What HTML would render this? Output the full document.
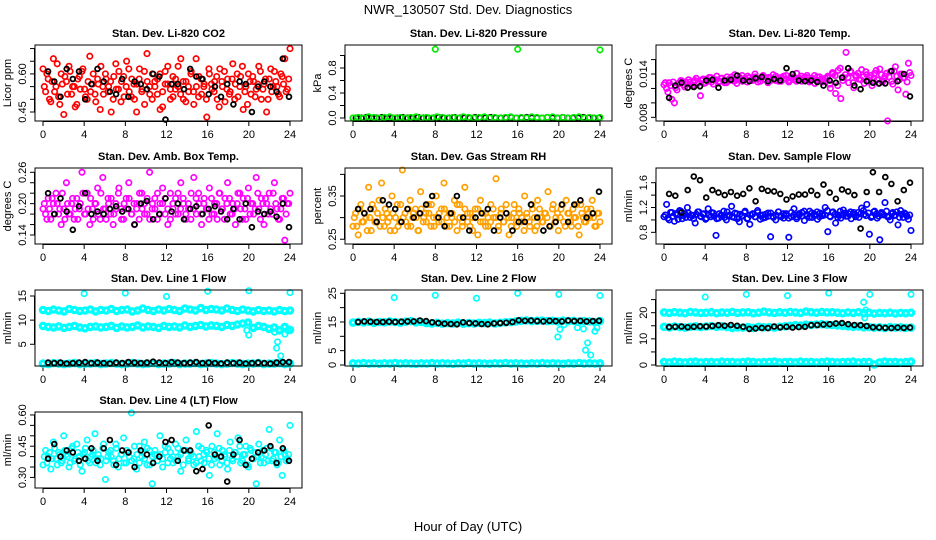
<!DOCTYPE html>
<html><head><meta charset="utf-8"><style>
body{margin:0;background:#fff;}
svg{display:block;font-family:"Liberation Sans",Arial,sans-serif;}
</style></head><body>
<svg id="chart" width="936" height="540" viewBox="0 0 936 540">
<rect x="0" y="0" width="936" height="540" fill="#fff"/>
<text x="468" y="14" text-anchor="middle" font-size="13">NWR_130507  Std. Dev. Diagnostics</text>
<text x="468" y="531" text-anchor="middle" font-size="13">Hour of Day (UTC)</text>
</svg>
<script>
// ---- data arrays ----
const xTicks = [0,4,8,12,16,20,24];
const co2Red = [0.62,0.53,0.58,0.49,0.66,0.55,0.51,0.60,0.44,0.57,0.63,0.52,0.55,0.48,0.59,0.61,0.54,0.50,0.67,0.56,0.52,0.58,0.46,0.55,0.60,0.53,0.57,0.50,0.64,0.54,0.49,0.59,0.55,0.62,0.51,0.56,0.45,0.58,0.53,0.61,0.68,0.55,0.50,0.57,0.52,0.60,0.47,0.56,0.63,0.54,0.51,0.58,0.55,0.66,0.50,0.57,0.53,0.61,0.48,0.55,0.59,0.52,0.56,0.43,0.60,0.54,0.57,0.50,0.62,0.55,0.49,0.58,0.53,0.64,0.56,0.51,0.59,0.46,0.55,0.60,0.52,0.57,0.54,0.63,0.50,0.56,0.45,0.58,0.53,0.61,0.55,0.51,0.59,0.66,0.54,0.70];
const co2RedB = [0.55,0.60,0.50,0.57,0.53,0.64,0.48,0.56,0.59,0.52,0.61,0.55,0.47,0.58,0.54,0.62,0.51,0.57,0.53,0.60,0.49,0.56,0.63,0.52,0.58,0.55,0.45,0.59,0.54,0.61,0.57,0.51,0.65,0.53,0.58,0.50,0.56,0.62,0.54,0.48,0.57,0.52,0.60,0.55,0.58,0.46,0.53,0.61,0.56,0.50,0.59,0.54,0.63,0.52,0.57,0.49,0.55,0.60,0.53,0.66,0.51,0.58,0.55,0.50,0.62,0.56,0.53,0.59,0.47,0.57,0.61,0.54,0.52,0.58,0.50,0.60,0.55,0.63,0.53,0.48,0.57,0.59,0.51,0.56,0.61,0.54,0.58,0.50,0.62,0.55,0.57,0.52,0.60,0.56,0.53,0.58];
const co2Black = [0.61,0.57,0.51,0.62,0.58,0.61,0.50,0.56,0.62,0.57,0.53,0.52,0.58,0.51,0.57,0.56,0.54,0.60,0.59,0.42,0.56,0.56,0.54,0.62,0.59,0.58,0.52,0.55,0.51,0.56,0.48,0.57,0.56,0.45,0.55,0.57,0.55,0.53,0.66,0.51];
const presGreen = [0.0,0.01,0.0,0.02,0.01,0.0,0.01,0.02,0.0,0.01,0.0,0.01,0.02,0.0,0.01,0.0,0.02,0.01,0.0,0.01,0.0,0.02,0.01,0.0,0.01,0.02,0.0,0.01,0.0,0.01,0.02,0.0,0.01,0.0,0.02,0.01,0.0,0.01,0.02,0.0,0.01,0.0,0.01,0.02,0.0,0.01,0.0,0.01];
const presBlack = [0.0,0.0,0.01,0.0,0.0,0.01,0.0,0.0,0.0,0.01,0.0,0.0,0.01,0.0,0.0,0.0,0.01,0.0,0.0,0.01,0.0,0.0,0.0,0.01,0.0,0.0,0.01,0.0,0.0,0.0,0.01,0.0,0.0,0.01,0.0,0.0,0.0,0.01,0.0,0.0,0.01,0.0,0.0,0.0,0.01,0.0,0.0,0.0];
const presOutX = [0,8,16,24];
const presOutY = [0.0,1.1,1.1,1.09];
const tempMag = [0.0125,0.0120,0.0128,0.0105,0.0100,0.0118,0.0127,0.0130,0.0122,0.0126,0.0129,0.0124,0.0131,0.0127,0.0110,0.0133,0.0128,0.0130,0.0135,0.0126,0.0132,0.0129,0.0134,0.0131,0.0128,0.0133,0.0136,0.0130,0.0127,0.0134,0.0138,0.0132,0.0129,0.0135,0.0131,0.0140,0.0133,0.0130,0.0136,0.0132,0.0128,0.0135,0.0139,0.0131,0.0134,0.0130,0.0137,0.0133,0.0129,0.0136,0.0132,0.0141,0.0134,0.0130,0.0135,0.0138,0.0131,0.0133,0.0127,0.0136,0.0132,0.0129,0.0134,0.0137,0.0120,0.0140,0.0113,0.0145,0.0106,0.0135,0.0170,0.0128,0.0142,0.0121,0.0138,0.0133,0.0146,0.0127,0.0139,0.0135,0.0124,0.0141,0.0132,0.0147,0.0129,0.0137,0.0075,0.0143,0.0126,0.0150,0.0118,0.0140,0.0135,0.0112,0.0155,0.0138];
const tempMagB = [0.0128,0.0115,0.0124,0.0129,0.0121,0.0127,0.0131,0.0125,0.0129,0.0132,0.0126,0.0130,0.0134,0.0128,0.0131,0.0127,0.0133,0.0135,0.0129,0.0132,0.0137,0.0130,0.0134,0.0128,0.0136,0.0131,0.0133,0.0139,0.0132,0.0135,0.0130,0.0134,0.0137,0.0131,0.0133,0.0136,0.0129,0.0134,0.0138,0.0132,0.0135,0.0131,0.0133,0.0137,0.0130,0.0135,0.0133,0.0138,0.0131,0.0134,0.0136,0.0130,0.0133,0.0137,0.0132,0.0135,0.0129,0.0134,0.0138,0.0131,0.0136,0.0133,0.0130,0.0135,0.0126,0.0142,0.0138,0.0124,0.0148,0.0131,0.0139,0.0135,0.0144,0.0128,0.0137,0.0141,0.0132,0.0136,0.0143,0.0130,0.0138,0.0134,0.0145,0.0127,0.0139,0.0133,0.0141,0.0136,0.0130,0.0144,0.0137,0.0132,0.0140,0.0135,0.0129,0.0142];
const tempBlack = [0.0107,0.0124,0.0128,0.0121,0.0122,0.0123,0.0131,0.0132,0.0121,0.0131,0.0132,0.0138,0.0131,0.0130,0.0134,0.0136,0.0130,0.0133,0.0131,0.0148,0.0140,0.0131,0.0130,0.0131,0.0129,0.0124,0.0131,0.0128,0.0135,0.0148,0.0124,0.0119,0.0130,0.0128,0.0127,0.0127,0.0144,0.0130,0.0140,0.0109];
const ambMag = [0.19,0.18,0.21,0.17,0.20,0.22,0.18,0.16,0.19,0.24,0.18,0.20,0.17,0.21,0.19,0.26,0.18,0.22,0.16,0.19,0.20,0.23,0.17,0.25,0.19,0.21,0.18,0.16,0.20,0.22,0.19,0.17,0.21,0.24,0.18,0.20,0.19,0.17,0.22,0.20,0.18,0.26,0.19,0.21,0.17,0.20,0.23,0.18,0.16,0.22,0.19,0.21,0.18,0.24,0.20,0.17,0.19,0.22,0.25,0.18,0.20,0.16,0.21,0.19,0.23,0.18,0.20,0.17,0.22,0.19,0.21,0.24,0.18,0.20,0.16,0.22,0.19,0.21,0.17,0.23,0.20,0.18,0.25,0.19,0.21,0.16,0.20,0.22,0.18,0.24,0.19,0.17,0.21,0.13,0.20,0.22];
const ambMagB = [0.20,0.17,0.19,0.21,0.18,0.20,0.19,0.22,0.17,0.20,0.18,0.21,0.19,0.17,0.20,0.22,0.18,0.19,0.21,0.17,0.20,0.18,0.22,0.19,0.17,0.20,0.21,0.18,0.19,0.23,0.17,0.20,0.19,0.21,0.18,0.16,0.20,0.22,0.19,0.18,0.21,0.17,0.20,0.19,0.22,0.18,0.20,0.21,0.19,0.17,0.20,0.18,0.22,0.19,0.21,0.18,0.20,0.17,0.19,0.21,0.22,0.18,0.20,0.19,0.17,0.21,0.18,0.20,0.22,0.19,0.17,0.20,0.21,0.18,0.19,0.20,0.22,0.17,0.19,0.21,0.18,0.20,0.19,0.22,0.17,0.20,0.21,0.18,0.19,0.22,0.20,0.17,0.19,0.21,0.18,0.20];
const ambBlack = [0.22,0.18,0.21,0.185,0.15,0.195,0.22,0.18,0.185,0.18,0.19,0.195,0.185,0.19,0.16,0.20,0.205,0.17,0.18,0.21,0.185,0.20,0.17,0.19,0.195,0.18,0.19,0.195,0.185,0.17,0.19,0.17,0.20,0.155,0.185,0.18,0.185,0.175,0.20,0.155];
const rhOrange = [0.28,0.31,0.26,0.33,0.29,0.30,0.37,0.27,0.32,0.29,0.34,0.38,0.28,0.31,0.30,0.35,0.27,0.33,0.29,0.41,0.31,0.28,0.34,0.30,0.32,0.27,0.36,0.29,0.31,0.33,0.28,0.30,0.35,0.29,0.32,0.38,0.28,0.31,0.30,0.34,0.27,0.33,0.29,0.37,0.31,0.28,0.30,0.32,0.26,0.34,0.29,0.31,0.28,0.33,0.30,0.39,0.27,0.32,0.29,0.31,0.26,0.30,0.33,0.28,0.31,0.29,0.35,0.30,0.28,0.32,0.27,0.34,0.30,0.29,0.31,0.36,0.28,0.33,0.30,0.27,0.32,0.29,0.34,0.31,0.28,0.30,0.33,0.26,0.31,0.29,0.32,0.30,0.34,0.28,0.31,0.29];
const rhOrangeB = [0.30,0.28,0.32,0.29,0.31,0.27,0.30,0.33,0.29,0.31,0.28,0.30,0.32,0.29,0.27,0.31,0.30,0.28,0.33,0.30,0.29,0.32,0.28,0.31,0.30,0.27,0.32,0.30,0.29,0.31,0.33,0.28,0.30,0.31,0.29,0.32,0.30,0.28,0.31,0.29,0.33,0.30,0.28,0.32,0.29,0.31,0.27,0.30,0.32,0.29,0.31,0.28,0.30,0.29,0.32,0.30,0.28,0.31,0.29,0.33,0.30,0.28,0.31,0.29,0.32,0.30,0.27,0.31,0.29,0.33,0.30,0.28,0.32,0.29,0.31,0.30,0.28,0.32,0.29,0.31,0.30,0.33,0.28,0.31,0.29,0.32,0.30,0.28,0.33,0.30,0.29,0.31,0.32,0.30,0.28,0.31];
const rhBlack = [0.32,0.31,0.32,0.29,0.34,0.33,0.32,0.29,0.32,0.30,0.31,0.33,0.35,0.30,0.28,0.31,0.35,0.30,0.27,0.30,0.31,0.32,0.27,0.30,0.31,0.27,0.29,0.29,0.33,0.30,0.27,0.28,0.29,0.33,0.29,0.33,0.34,0.30,0.31,0.36];
const flowBlue = [1.05,1.25,1.00,1.12,0.98,1.08,1.15,1.02,1.10,1.20,1.04,1.07,0.95,1.13,1.06,1.09,1.01,1.18,1.05,1.11,0.75,1.03,1.08,1.14,1.00,1.06,1.22,1.04,1.10,0.97,1.07,1.12,1.02,0.93,1.09,1.05,1.15,1.01,1.08,1.04,1.11,0.73,1.06,1.00,1.13,1.07,1.03,1.10,0.72,1.05,1.18,1.02,1.08,1.12,0.99,1.06,1.14,1.04,1.09,1.01,1.11,1.07,1.20,0.81,1.05,1.13,0.95,1.08,1.03,1.16,1.06,1.10,1.02,1.12,1.07,1.04,1.19,1.09,1.25,0.77,1.06,1.14,1.03,0.68,1.10,1.28,1.05,1.00,1.12,1.08,0.92,1.15,1.04,1.09,1.01,0.83];
const flowBlueB = [1.08,1.03,1.12,1.06,1.10,1.01,1.14,1.07,1.04,1.11,1.08,1.02,1.09,1.13,1.05,1.10,1.03,1.08,1.12,1.06,1.02,1.10,1.07,1.04,1.13,1.08,1.05,1.11,1.02,1.09,1.06,1.14,1.03,1.08,1.10,1.05,1.12,1.07,1.03,1.09,1.06,1.11,1.04,1.08,1.13,1.05,1.10,1.07,1.03,1.12,1.08,1.05,1.10,1.06,1.14,1.09,1.04,1.11,1.07,1.13,1.05,1.10,1.08,1.15,1.06,1.12,1.09,1.04,1.14,1.08,1.11,1.06,1.13,1.09,1.05,1.12,1.10,1.15,1.07,1.11,1.04,1.13,1.09,1.06,1.12,1.08,1.14,1.05,1.10,1.07,1.13,1.04,1.09,1.11,1.06,1.08];
const flowBlack = [1.42,1.39,1.12,1.48,1.70,1.64,1.36,1.48,1.44,1.40,1.45,1.39,1.42,1.51,1.30,1.50,1.47,1.46,1.42,1.33,1.38,1.41,1.41,1.47,1.40,1.57,1.44,1.34,1.49,1.46,1.40,0.86,1.45,1.77,1.45,1.69,1.58,1.30,1.48,1.60];
const l1Hi = [12.1,11.9,12.2,12.0,11.8,12.3,12.1,11.9,12.0,12.2,11.8,12.1,12.0,12.3,11.9,12.1,12.2,11.8,12.0,12.4,12.1,11.9,12.2,12.0,12.3,12.1,11.9,12.4,12.2,12.0,12.5,12.1,12.3,12.2,12.0,12.4,12.1,11.9,12.2,12.0,11.8,12.1,11.9,12.0,11.8,12.1,11.9,12.0];
const l1Mid = [8.8,8.6,8.5,8.7,8.4,8.6,8.8,8.5,8.3,8.6,8.7,8.5,8.6,8.8,8.4,8.7,8.5,8.6,8.9,8.5,8.7,8.6,8.4,8.8,8.6,8.7,8.5,8.9,8.6,8.8,9.0,8.7,8.9,8.8,8.6,9.0,8.8,9.1,9.3,9.5,8.4,8.8,8.6,8.2,8.5,7.9,8.6,8.0];
const l1Low = [1.0,0.9,1.1,1.0,0.9,1.0,1.1,0.9,1.0,1.0,1.1,0.9,1.0,1.1,1.0,0.9,1.0,1.1,1.0,0.9,1.0,1.1,0.9,1.0,1.0,1.1,0.9,1.0,1.0,1.1,0.9,1.0,1.1,1.0,0.9,1.0,1.1,1.0,0.9,1.0,1.0,1.1,0.9,1.0,1.0,1.1,0.9,1.0];
const l1Black = [1.2,1.1,1.2,1.0,1.1,1.2,1.3,1.1,1.2,1.1,1.0,1.2,1.1,1.3,1.2,1.1,1.2,1.4,1.2,1.1,1.3,1.2,1.1,1.2,1.3,1.1,1.2,1.1,1.0,1.2,1.1,1.2,1.0,1.1,1.2,1.1,1.0,1.2,1.3,1.3];
const l1OutX = [4,8,12,16,20,24,19.8,20,22.5,22.7,22.8,23.1,23.5,23.8];
const l1OutY = [15.5,15.6,14.9,16.0,16.1,15.7,7.9,6.9,7.5,4.2,5.5,2.6,7.1,7.8];
const l2Hi = [14.8,15.0,14.9,15.1,14.7,15.0,14.9,15.2,15.0,14.8,15.1,15.3,14.9,15.0,14.6,14.5,14.7,14.4,14.6,14.5,14.8,14.4,14.6,14.5,14.7,14.6,14.8,14.5,14.7,14.9,15.0,15.2,15.4,15.5,15.3,15.4,15.5,15.3,15.4,15.2,15.5,15.3,15.4,15.1,15.3,15.2,15.0,15.3];
const l2Low = [0.6,0.5,0.7,0.5,0.6,0.4,0.6,0.5,0.7,0.5,0.6,0.5,0.4,0.6,0.5,0.7,0.5,0.6,0.5,0.4,0.6,0.5,0.7,0.5,0.6,0.5,0.4,0.6,0.5,0.7,0.5,0.6,0.5,0.4,0.6,0.5,0.7,0.5,0.6,0.5,0.4,0.6,0.5,0.7,0.5,0.6,0.5,0.6];
const l2Black = [15.0,15.2,15.1,15.0,15.0,15.1,15.0,15.1,15.2,15.2,15.5,15.3,14.9,14.6,14.4,14.3,14.2,14.9,14.6,14.5,14.3,14.2,14.5,14.6,14.7,15.0,15.6,15.4,15.5,15.3,15.2,15.4,15.3,15.2,15.5,15.3,15.4,15.2,15.3,15.4];
const l2OutX = [4,8,12,16,20,24,19.9,20.1,20.5,21.8,22.4,22.6,22.8,23.1,23.5,23.7];
const l2OutY = [23.5,24.3,23.3,25.0,24.6,24.2,9.8,12.4,14.0,13.0,12.6,5.2,7.7,3.5,11.8,13.0];
const l3Hi = [20.1,19.9,20.2,20.0,19.8,20.3,20.1,19.9,20.0,20.2,19.8,20.1,20.0,20.3,19.9,20.1,20.2,19.8,20.0,20.4,20.1,19.9,20.2,20.0,20.3,20.1,19.9,20.4,20.2,20.0,20.3,20.1,20.2,20.0,19.8,20.1,19.9,20.2,19.8,20.0,19.7,19.9,19.8,20.0,19.7,19.9,19.8,20.0];
const l3Mid = [14.6,14.4,14.7,14.5,14.3,14.6,14.8,14.5,14.7,14.9,14.6,14.8,14.5,14.2,14.4,14.3,14.5,14.2,14.6,14.4,14.5,14.3,14.6,14.8,15.0,15.2,15.1,15.4,15.3,15.5,15.6,15.4,15.3,15.1,15.0,14.8,14.6,14.7,14.4,14.5,14.3,14.4,14.2,14.5,14.3,14.4,14.2,14.3];
const l3Low = [1.2,1.0,1.3,1.1,1.0,1.2,1.3,1.0,1.1,1.2,1.0,1.3,1.1,1.2,1.0,1.1,1.3,1.2,1.0,1.1,1.2,1.3,1.0,1.1,1.2,1.0,1.3,1.1,1.2,1.0,1.1,1.3,1.2,1.0,1.1,1.2,1.3,1.0,1.1,1.2,0.2,1.0,1.3,1.1,1.2,1.0,1.1,1.3];
const l3Black = [14.5,14.6,14.7,14.4,14.6,14.8,14.7,14.9,15.2,15.0,15.3,15.0,14.6,13.8,14.0,14.2,14.1,14.7,14.4,14.6,14.3,14.5,14.6,15.2,15.3,15.5,15.6,15.9,16.0,15.6,15.3,15.2,14.9,14.4,14.3,14.2,14.1,14.3,14.2,14.3];
const l3OutX = [4,8,12,16,19.4,19.5,19.6,20,24];
const l3OutY = [26.0,27.0,26.5,27.5,24.0,18.0,21.0,27.0,27.0];
const l4Cyan = [0.36,0.43,0.40,0.34,0.47,0.39,0.42,0.37,0.50,0.41,0.35,0.44,0.38,0.46,0.40,0.33,0.42,0.48,0.37,0.41,0.51,0.39,0.36,0.44,0.29,0.40,0.43,0.38,0.46,0.35,0.41,0.49,0.37,0.42,0.61,0.39,0.34,0.45,0.40,0.47,0.36,0.43,0.27,0.41,0.38,0.50,0.35,0.42,0.44,0.39,0.37,0.46,0.40,0.33,0.43,0.48,0.38,0.41,0.36,0.52,0.40,0.44,0.37,0.42,0.31,0.45,0.39,0.51,0.36,0.43,0.40,0.34,0.47,0.38,0.42,0.49,0.37,0.41,0.45,0.35,0.43,0.39,0.27,0.46,0.40,0.37,0.44,0.53,0.38,0.42,0.36,0.48,0.31,0.41,0.39,0.55];
const l4CyanB = [0.40,0.37,0.42,0.39,0.44,0.36,0.41,0.38,0.43,0.40,0.37,0.45,0.39,0.42,0.36,0.41,0.44,0.38,0.40,0.43,0.37,0.41,0.39,0.46,0.38,0.42,0.40,0.36,0.44,0.39,0.41,0.37,0.43,0.40,0.38,0.45,0.41,0.37,0.42,0.39,0.44,0.36,0.40,0.43,0.38,0.41,0.39,0.45,0.37,0.42,0.40,0.38,0.44,0.41,0.36,0.43,0.39,0.42,0.40,0.37,0.45,0.38,0.41,0.43,0.39,0.36,0.42,0.40,0.44,0.38,0.41,0.37,0.43,0.39,0.42,0.40,0.45,0.38,0.41,0.36,0.44,0.39,0.42,0.40,0.37,0.43,0.41,0.38,0.44,0.39,0.42,0.37,0.40,0.43,0.38,0.41];
const l4Black = [0.39,0.46,0.40,0.43,0.42,0.38,0.39,0.44,0.38,0.44,0.48,0.36,0.43,0.42,0.35,0.43,0.41,0.37,0.40,0.47,0.48,0.38,0.43,0.43,0.33,0.34,0.55,0.41,0.40,0.28,0.41,0.48,0.36,0.39,0.42,0.43,0.45,0.37,0.44,0.38];

const NS = "http://www.w3.org/2000/svg";
const svg = document.getElementById('chart');
function mk(tag, attrs, parent){
  const e = document.createElementNS(NS, tag);
  for (const k in attrs) e.setAttribute(k, attrs[k]);
  (parent||svg).appendChild(e);
  return e;
}
function evenX(n, a, b){ const r=[]; for(let i=0;i<n;i++) r.push(a+(b-a)*i/(n-1)); return r; }

const colLeft = [35,345,656];
const rowTop = [45,168,290,412];
const W = 267, H = 76;

const panels = [
 {title:"Stan. Dev. Li-820 CO2", ylab:"Licor ppm", ymin:0.4145, ymax:0.714, ticks:[0.45,0.5,0.55,0.6,0.65,0.7], labels:{"0.45":"0.45","0.6":"0.60"},
  series:[{y:co2Red,c:"#ff0000",name:"co2-std"},{y:co2RedB,c:"#ff0000",name:"co2-std-b",x0:0.13,x1:23.87},{y:co2Black,c:"#000",b:1,name:"co2-std-black"}]},
 {title:"Stan. Dev. Li-820 Pressure", ylab:"kPa", ymin:-0.048, ymax:1.168, ticks:[0,0.2,0.4,0.6,0.8,1.0], labels:{"0":"0.0","0.4":"0.4","0.8":"0.8"},
  series:[{y:presBlack,c:"#000",name:"pressure-std-black",x0:0.3,x1:23.9},{y:presGreen,c:"#00ee00",name:"pressure-std"},{x:presOutX,y:presOutY,c:"#00ee00",name:"pressure-outliers"}]},
 {title:"Stan. Dev. Li-820 Temp.", ylab:"degrees C", ymin:0.00749, ymax:0.01802, ticks:[0.008,0.010,0.012,0.014,0.016], labels:{"0.008":"0.008","0.014":"0.014"},
  series:[{y:tempMag,c:"#ff00ff",name:"temp-std"},{y:tempMagB,c:"#ff00ff",name:"temp-std-b",x0:0.13,x1:23.87},{y:tempBlack,c:"#000",b:1,name:"temp-std-black"}]},
 {title:"Stan. Dev. Amb. Box Temp.", ylab:"degrees C", ymin:0.1228, ymax:0.2682, ticks:[0.14,0.16,0.18,0.20,0.22,0.24,0.26], labels:{"0.14":"0.14","0.2":"0.20","0.26":"0.26"},
  series:[{y:ambMag,c:"#ff00ff",name:"ambtemp-std"},{y:ambMagB,c:"#ff00ff",name:"ambtemp-std-b",x0:0.13,x1:23.87},{y:ambBlack,c:"#000",b:1,name:"ambtemp-std-black"}]},
 {title:"Stan. Dev. Gas Stream RH", ylab:"percent", ymin:0.239, ymax:0.4147, ticks:[0.25,0.30,0.35,0.40], labels:{"0.25":"0.25","0.35":"0.35"},
  series:[{y:rhOrange,c:"#ffa000",name:"rh-std"},{y:rhOrangeB,c:"#ffa000",name:"rh-std-b",x0:0.13,x1:23.87},{y:rhBlack,c:"#000",b:1,name:"rh-std-black"}]},
 {title:"Stan. Dev. Sample Flow", ylab:"ml/min", ymin:0.612, ymax:1.837, ticks:[0.8,1.0,1.2,1.4,1.6], labels:{"0.8":"0.8","1.2":"1.2","1.6":"1.6"},
  series:[{y:flowBlue,c:"#0000ff",name:"sampleflow-std"},{y:flowBlueB,c:"#0000ff",name:"sampleflow-std-b",x0:0.13,x1:23.87},{y:flowBlack,c:"#000",b:1,name:"sampleflow-std-black"}]},
 {title:"Stan. Dev. Line 1 Flow", ylab:"ml/min", ymin:0.5, ymax:16.24, ticks:[5,10,15], labels:{"5":"5","10":"10","15":"15"},
  series:[{y:l1Hi,c:"#00ffff",band:1,name:"line1-band-high"},{y:l1Mid,c:"#00ffff",band:1,name:"line1-band-mid"},{y:l1Low,c:"#00ffff",band:1,name:"line1-band-low"},{x:l1OutX,y:l1OutY,c:"#00ffff",name:"line1-outliers"},{y:l1Black,c:"#000",b:1,name:"line1-black"}]},
 {title:"Stan. Dev. Line 2 Flow", ylab:"ml/min", ymin:-0.35, ymax:26.15, ticks:[0,5,10,15,20,25], labels:{"0":"0","5":"5","15":"15","25":"25"},
  series:[{y:l2Hi,c:"#00ffff",band:1,name:"line2-band-high"},{y:l2Low,c:"#00ffff",band:1,name:"line2-band-low"},{x:l2OutX,y:l2OutY,c:"#00ffff",name:"line2-outliers"},{y:l2Black,c:"#000",b:1,name:"line2-black"}]},
 {title:"Stan. Dev. Line 3 Flow", ylab:"ml/min", ymin:-0.38, ymax:28.67, ticks:[0,5,10,15,20,25], labels:{"0":"0","10":"10","20":"20"},
  series:[{y:l3Hi,c:"#00ffff",band:1,name:"line3-band-high"},{y:l3Mid,c:"#00ffff",band:1,name:"line3-band-mid"},{y:l3Low,c:"#00ffff",band:1,name:"line3-band-low"},{x:l3OutX,y:l3OutY,c:"#00ffff",name:"line3-outliers"},{y:l3Black,c:"#000",b:1,name:"line3-black"}]},
 {title:"Stan. Dev. Line 4 (LT) Flow", ylab:"ml/min", ymin:0.2493, ymax:0.6142, ticks:[0.30,0.35,0.40,0.45,0.50,0.55,0.60], labels:{"0.3":"0.30","0.45":"0.45","0.6":"0.60"},
  series:[{y:l4Cyan,c:"#00ffff",name:"line4-std"},{y:l4CyanB,c:"#00ffff",name:"line4-std-b",x0:0.13,x1:23.87},{y:l4Black,c:"#000",b:1,name:"line4-black"}]}
];

panels.forEach((p, idx) => {
  const L = colLeft[idx%3], T = rowTop[Math.floor(idx/3)];
  const g = mk('g', {});
  
  
  const xs = h => L + 8 + h*(247/24);
  const ys = v => T + H - (v - p.ymin)/(p.ymax - p.ymin)*H;
  const t = mk('text', {x:L+W/2, y:T-8, 'text-anchor':'middle', 'font-size':'11', 'font-weight':'bold'}, g);
  t.textContent = p.title;
  
  
  const yl = mk('text', {x:0, y:0, 'text-anchor':'middle', 'font-size':'11', transform:`translate(${L-24},${T+H/2}) rotate(-90)`}, g);
  yl.textContent = p.ylab;
  
  
  const xa = mk('g', {stroke:'#000','stroke-width':'1'}, g);
  
  
  mk('line', {x1:xs(0), x2:xs(24), y1:T+H+0.5, y2:T+H+0.5}, xa);
  xTicks.forEach(v => {
    mk('line', {x1:xs(v), x2:xs(v), y1:T+H, y2:T+H+5}, xa);
    const tl = mk('text', {x:xs(v), y:T+H+17, 'text-anchor':'middle', 'font-size':'11', stroke:'none', fill:'#000'}, g);
    tl.textContent = v;
    
    
  });
  const ya = mk('g', {stroke:'#000','stroke-width':'1'}, g);
  
  
  mk('line', {x1:L-0.5, x2:L-0.5, y1:ys(p.ticks[0]), y2:ys(p.ticks[p.ticks.length-1])}, ya);
  p.ticks.forEach(v => {
    mk('line', {x1:L-5, x2:L, y1:ys(v), y2:ys(v)}, ya);
    const key = String(+v.toFixed(4));
    if (p.labels[key] !== undefined) {
      const tl = mk('text', {x:0, y:0, 'text-anchor':'middle', 'font-size':'11', stroke:'none', transform:`translate(${L-9},${ys(v)}) rotate(-90)`}, g);
      tl.textContent = p.labels[key];
      
      
    }
  });
  p.series.forEach(s => {
    const sw = s.band ? '3.2' : (s.b ? '1.8' : '1.7');
    const sg = mk('g', {fill:'none', stroke:s.c, 'stroke-width': sw}, g);
    
    
    const xv = s.x || (s.b ? evenX(s.y.length, 0.5, 23.9) : evenX(s.y.length, s.x0!==undefined?s.x0:0, s.x1!==undefined?s.x1:24));
    s.y.forEach((v,i) => {
      const c = mk('circle', {cx:xs(xv[i]).toFixed(1), cy:ys(v).toFixed(1), r: s.b ? '2.4' : '2.7'}, sg);
      
      
    });
  });
  const box = mk('rect', {x:L, y:T, width:W, height:H, fill:'none', stroke:'#000', 'stroke-width':'1'}, g);
  
  
});
</script>
</body></html>
